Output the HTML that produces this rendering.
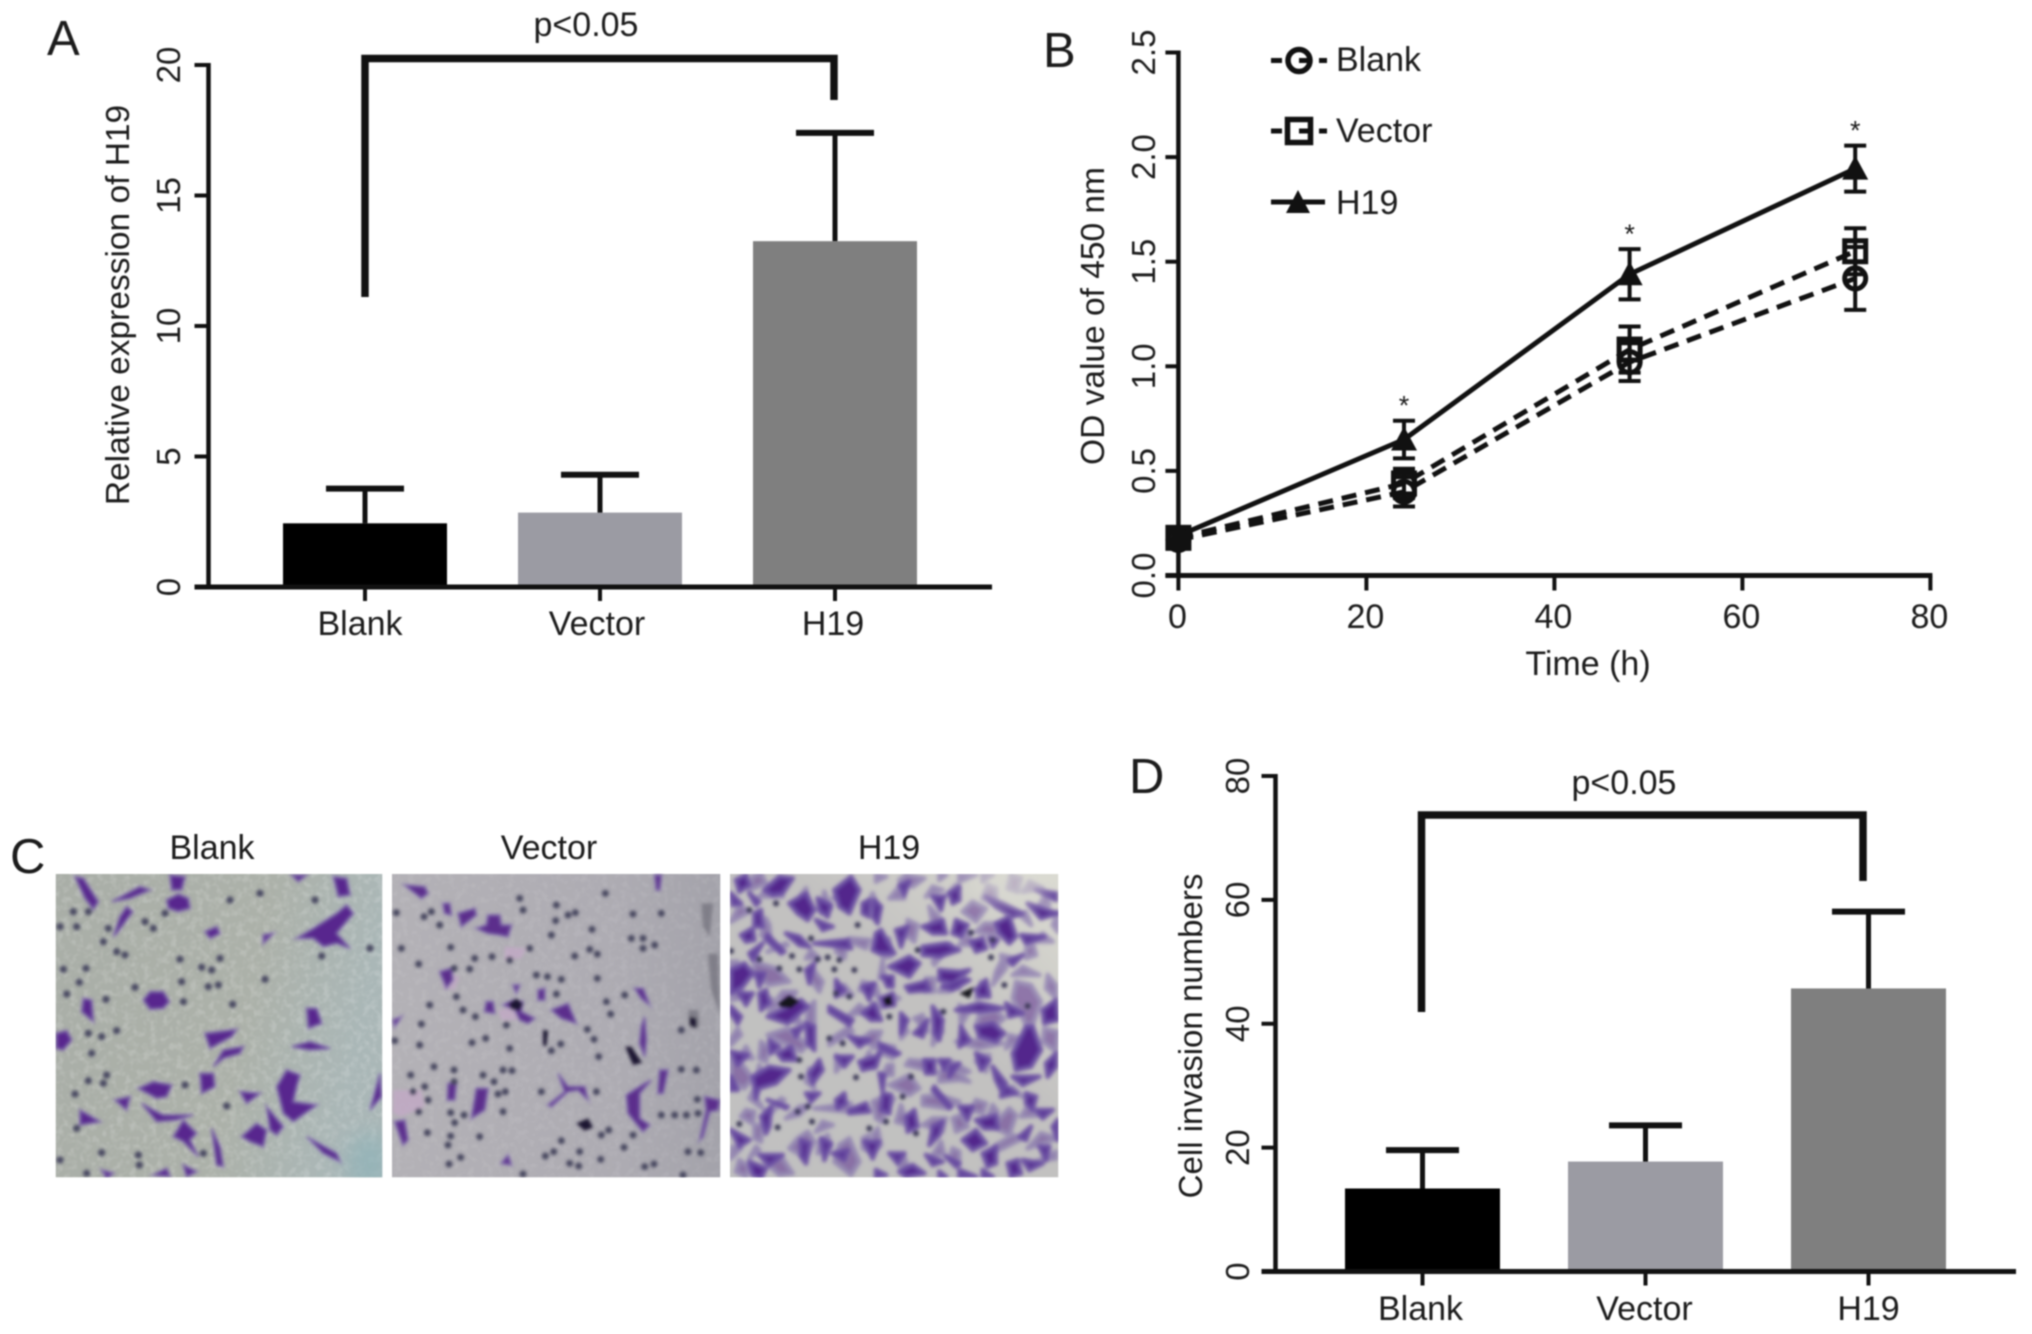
<!DOCTYPE html>
<html lang="en">
<head>
<meta charset="utf-8">
<title>H19 expression, proliferation and invasion panels</title>
<style>
html,body{margin:0;padding:0;background:#fff;width:2032px;height:1334px;overflow:hidden}
svg{display:block;filter:blur(.7px)}
text{font-family:"Liberation Sans",Arial,sans-serif;fill:#1c1c1c}
</style>
</head>
<body>
<svg id="figure" xmlns="http://www.w3.org/2000/svg" width="2032" height="1334" viewBox="0 0 2032 1334">
<defs>
<filter id="soft" x="-5%" y="-5%" width="110%" height="110%"><feGaussianBlur stdDeviation="5"/></filter>
<filter id="wide" x="-30%" y="-30%" width="160%" height="160%"><feGaussianBlur stdDeviation="30"/></filter>
<filter id="speck" x="0" y="0" width="100%" height="100%">
<feTurbulence type="fractalNoise" baseFrequency="0.05" numOctaves="2" seed="4"/>
<feColorMatrix type="matrix" values="0 0 0 0 1  0 0 0 0 1  0 0 0 0 1  3 0 0 0 -1.3"/>
</filter>
<linearGradient id="bg-blank" x1="0" y1="0" x2="1" y2="0.2"><stop offset="0" stop-color="#a9aea7"/><stop offset=".65" stop-color="#acb1a9"/><stop offset="1" stop-color="#aab7b7"/></linearGradient>
<linearGradient id="bg-vector" x1="0" y1="0" x2="1" y2="0"><stop offset="0" stop-color="#b3b1b6"/><stop offset=".7" stop-color="#adabb2"/><stop offset="1" stop-color="#a3a2aa"/></linearGradient>
<linearGradient id="bg-h19" x1="0" y1="1" x2="1" y2="0"><stop offset="0" stop-color="#c0c0c0"/><stop offset=".6" stop-color="#c2c1c0"/><stop offset="1" stop-color="#dbdbd2"/></linearGradient>
<clipPath id="clip-blank"><rect x="17" y="12" width="980" height="910"/></clipPath>
<clipPath id="clip-vector"><rect x="12" y="12" width="985" height="910"/></clipPath>
<clipPath id="clip-h19"><rect x="12" y="12" width="985" height="910"/></clipPath>
</defs>
<rect width="2032" height="1334" fill="#fff"/>

<g id="chart-a"></g>
<g id="chart-b"></g>
<g id="chart-d"></g>

<text x="47" y="55" font-size="49">A</text>
<text x="1043" y="67" font-size="49">B</text>
<text x="10" y="873" font-size="49">C</text>
<text x="1129" y="793" font-size="49">D</text>

<g fill="none" stroke="#111">
  <g>
    <path d="M1271 60.500H1282M1299 60.500H1309M1319 60.500H1327" stroke-width="5"/>
    <circle cx="1299" cy="60.500" r="11" stroke-width="5.500"/>
    <text x="1336" y="71" font-size="34" stroke="none">Blank</text>
  </g>
  <g>
    <path d="M1271 131H1282M1299 131H1309M1319 131H1327" stroke-width="5"/>
    <rect x="1287.500" y="119.500" width="23" height="23" stroke-width="5.500"/>
    <text x="1336" y="142" font-size="34" stroke="none">Vector</text>
  </g>
  <g>
    <path d="M1271 202H1325" stroke-width="5"/>
    <polygon points="1298,190 1310,213 1286,213" fill="#111" stroke="none"/>
    <text x="1336" y="214" font-size="34" stroke="none">H19</text>
  </g>
</g>

<text x="212" y="859" font-size="34" text-anchor="middle">Blank</text>
<text x="549" y="859" font-size="34" text-anchor="middle">Vector</text>
<text x="889" y="859" font-size="34" text-anchor="middle">H19</text>

<g transform="translate(50 870) scale(.33333)" clip-path="url(#clip-blank)">
  <rect x="17" y="12" width="980" height="910" fill="url(#bg-blank)"/>
  <rect x="17" y="12" width="980" height="910" filter="url(#speck)" opacity=".16"/>
  <ellipse cx="960" cy="880" rx="70" ry="90" fill="#8fb2b8" opacity=".7" filter="url(#wide)"/>
  <g filter="url(#soft)">
    <path fill="#58288e" stroke="#7d67ad" stroke-opacity=".55" stroke-width="9" d="M75 20L100 25 145 95 130 118 105 85ZM185 95L270 50 300 60 240 85ZM230 110L248 125 200 190 190 200 210 140ZM360 15L405 20 395 60 365 60ZM350 90L385 72 415 85 420 115 385 125 355 115ZM465 185L500 170 510 190 480 205ZM740 205L790 175 860 130 890 105 910 130 860 190 900 235 860 220 820 230 790 205ZM850 20L890 25 900 75 865 80ZM725 15L770 15 745 35ZM280 390L300 365 340 365 358 395 340 415 300 418ZM100 385L125 390 130 455 95 425ZM18 490L50 482 65 510 40 540 18 535ZM465 490L560 478 545 500 480 535ZM490 590L520 540 580 530 570 550 520 565ZM450 610L490 610 495 650 455 670ZM265 655L310 635 365 645 350 680 320 685ZM195 690L240 680 230 720ZM275 700L310 720 340 735 430 735 380 750 320 755ZM370 800L400 750 440 790 420 810 445 860 400 815ZM90 720L150 755 90 765ZM485 775L510 830 520 890 500 885ZM570 665L630 670 590 700ZM680 650L710 600 750 615 740 650 730 695 800 705 730 755 700 730ZM650 710L700 770 680 795 660 780ZM575 800L620 760 650 780 640 830 600 815ZM770 800L860 850 870 875 820 850ZM770 415L800 415 815 460 775 475ZM725 530L780 515 840 535 780 540ZM960 720L990 610 995 680ZM310 915L350 895 360 920ZM400 885L440 905 410 920ZM155 900L190 910 170 925ZM640 195L670 190 640 220Z"/>
    <path fill="none" stroke="#4a4a62" stroke-width="22" stroke-linecap="round" d="M30 170h0M80 170h0M115 125h0M70 125h0M175 175h0M160 215h0M200 245h0M225 255h0M310 175h0M285 155h0M345 130h0M40 298h0M108 295h0M88 337h0M50 372h0M168 388h0M255 352h0M390 268h0M455 292h0M485 300h0M510 265h0M395 335h0M475 350h0M505 345h0M400 395h0M548 403h0M645 328h0M540 90h0M630 70h0M115 490h0M155 500h0M200 482h0M125 550h0M170 615h0M115 632h0M75 672h0M160 640h0M405 645h0M530 708h0M80 775h0M265 855h0M155 848h0M30 870h0M110 910h0M268 885h0M460 850h0M960 235h0M815 258h0M795 90h0"/>
  </g>
</g>

<g transform="translate(388 870) scale(.33333)" clip-path="url(#clip-vector)">
  <rect x="12" y="12" width="985" height="910" fill="url(#bg-vector)"/>
  <rect x="12" y="12" width="985" height="910" filter="url(#speck)" opacity=".08"/>
  <g filter="url(#soft)">
    <path fill="#c2a9c6" opacity=".8" d="M15 660L100 660 110 710 40 740 15 730ZM160 300L215 320 200 360 165 355ZM350 230L415 235 400 265 350 270ZM330 420L380 410 390 450 340 450Z"/>
    <path fill="#73727c" d="M960 250L990 250 995 430 970 360ZM900 420L930 420 935 470 905 475ZM940 100L975 100 965 200 945 170Z" opacity=".75"/>
    <path fill="#5b2d8c" stroke="#7d67ad" stroke-opacity=".5" stroke-width="9" d="M50 45L110 50 120 70 100 85ZM165 100L185 100 190 135 170 130ZM210 130L260 115 265 135 220 170ZM265 175L295 165 300 135 335 135 340 165 370 165 360 200 335 195 300 190ZM155 305L190 295 195 330 175 355ZM375 345L395 345 385 370ZM295 395L315 395 320 430 290 425ZM345 405L375 390 405 395 400 425 440 445 420 460 395 450 380 420ZM450 360L470 355 470 390 450 390ZM490 420L540 400 565 460 520 445ZM740 355L765 355 785 405 760 385ZM770 440L775 510 770 560 755 520 760 470ZM510 610L540 650 590 650 600 690 570 660 540 665 490 710 480 705 530 665ZM815 600L840 600 825 670 810 670ZM715 675L770 640 790 630 755 670 755 745 785 765 765 785 720 730ZM950 680L995 690 990 720 965 725 945 800 935 810 955 720ZM265 655L300 655 290 720 250 745ZM20 755L50 750 60 810 45 825ZM340 880L360 855 370 885ZM180 640L205 640 200 690 178 690ZM800 15L820 15 815 60 805 60ZM15 450L40 440 20 470Z"/>
    <path fill="#1b1730" d="M362 400L385 385 405 400 395 422 370 418ZM712 530L730 530 762 578 735 585ZM565 760L600 745 615 772 590 782ZM905 440L925 445 925 475 905 465ZM465 480L480 482 475 530 465 525Z"/>
    <path fill="none" stroke="#47465e" stroke-width="21" stroke-linecap="round" d="M25 128h0M108 140h0M130 125h0M155 165h0M40 235h0M92 282h0M188 232h0M198 295h0M245 297h0M260 265h0M312 260h0M365 270h0M425 235h0M395 85h0M405 120h0M505 105h0M503 152h0M490 195h0M540 135h0M562 128h0M612 178h0M605 238h0M628 252h0M560 258h0M652 70h0M628 325h0M445 315h0M478 320h0M505 372h0M520 328h0M125 405h0M205 380h0M225 420h0M262 440h0M355 465h0M100 462h0M20 512h0M95 525h0M252 518h0M293 505h0M365 535h0M490 542h0M518 522h0M632 560h0M618 508h0M598 478h0M655 395h0M668 432h0M710 375h0M880 480h0M138 590h0M198 600h0M198 635h0M285 615h0M318 635h0M345 600h0M372 602h0M68 615h0M110 650h0M75 665h0M120 690h0M92 725h0M188 728h0M228 735h0M200 758h0M118 788h0M188 798h0M275 800h0M180 825h0M218 862h0M183 882h0M345 725h0M330 672h0M352 665h0M460 665h0M625 665h0M640 795h0M662 780h0M520 812h0M472 858h0M497 845h0M545 880h0M572 888h0M575 845h0M638 868h0M708 832h0M798 882h0M770 890h0M735 795h0M880 598h0M925 600h0M820 735h0M860 735h0M895 735h0M930 730h0M928 688h0M900 845h0M938 848h0M405 912h0M885 915h0M735 132h0M765 205h0M730 205h0M820 130h0M800 225h0M765 235h0"/>
  </g>
</g>

<g transform="translate(726 870) scale(.33333)" clip-path="url(#clip-h19)">
  <rect x="12" y="12" width="985" height="910" fill="url(#bg-h19)"/>
  <g filter="url(#soft)">
    <use href="#h19-cells" transform="translate(0 935) scale(1 -1)" opacity=".5"/>
    <path id="h19-cells" fill="#52268c" stroke="#6a4fa4" stroke-opacity=".8" stroke-width="15" stroke-linejoin="round" d="M30 30l30-15 10 30-30 20zM115 60l45-40 40 5-30 45-30 5zM15 70l30 30-25 5zM70 70l30 25-10 10zM85 130l20-10 5 50-25 0zM45 195l35-20 5 35-25 5zM190 100l50-30 25 50-20 30-30-20zM275 85l40 20-10 35-25-20zM325 60l50-40 25 40-30 70-30-20zM410 100l20-10 0 50-20-10zM445 90l20 20-10 50-15-20zM520 45l30-10-15 40zM620 80l35 0-10 40zM670 70l30-20 0 40-20 10zM590 170l60-20 10 40-40 0zM690 150l35 15-20 35-25-10zM780 80l50 20 60 30-30 10-50-30zM905 100l90 30-50 15zM930 60l60 10 0 20zM810 160l40-20 20 60-20 20-30-30zM885 195l70 5-55 20zM735 215l35-10 10 30-30 10zM790 205l25 5-15 20zM180 190l40 10 30 30-30-5zM265 220l100-10 10 25-70-10zM125 195l50 50-10 5-45-45zM70 250l40-30-30 50zM270 150l50 20-30 10zM450 190l15-10 40 70-45 0-20-10zM510 180l35-10-20 60zM590 230l70-10 40 20-60 20-50-5zM490 290l60-30 30 20-30 40zM640 300l60 5 30-5-50 40-40-10zM850 270l40-15-30 30zM15 300l40-20 25 30-30 40-35 20zM40 370l40 0-20 35zM100 370l20-10 10 40-25 20zM90 310l25 0-15 40zM15 410l30 30-10 20-20-30zM125 440l100-50 20 20-60 50zM240 300l25-20-15 60zM330 330l25 30-25 20zM410 350l35-10-15 50zM470 320l30 0 0 30-15 0zM465 385l35-15 5 35-30 5zM540 350l60-15 10 25-60 5zM650 350l60-25 20 5-50 30zM750 360l30-30 10 50-30 0zM310 410l70 40-10 15-60-40zM410 430l35-30 20 50-30 0zM525 430l20 20-20 40zM565 490l40-40-15 50zM240 460l25 10 0 70-20-20zM620 410l30 40-10 60-15-20zM690 420l70-20 70 15-70 10zM750 470l50-10 35 30-25 25-50-15zM840 400l50 30-40 10zM950 420l40-30 5 60-40 10zM900 470l20 0 25 70-30 50-45 10-10-50zM705 470l25 40-30 20zM130 510l30 20-25 20zM155 550l40-20 15 40-40 0zM15 545l50 10-30 30zM200 480l30-10-20 30zM370 500l60 10-30 20zM460 520l60 30-10 5-50-20zM330 560l50 0-25 30zM400 575l50-15 15-20-15 50-40 10zM595 570l30 0 0 40-25 0zM640 570l30 0-15 30zM670 590l30-10-30 40zM750 550l40 20-25 30zM800 590l40 50-10 30-20-40zM860 620l80 0-50 25zM960 580l30-30 0 40-25 30zM80 620l50-30 60 10-40 40-50 15-10 30zM250 610l30-40 10 30-30 40zM460 610l15 5-5 50zM15 620l20 40-20 0zM240 670l40 0-25 25zM330 690l25-20 5 30-25 15zM470 670l25 5-5 55-25-10zM370 720l50-20 10 25-60 5zM625 650l50 60-5 5-50-55zM700 710l40 0-15 40zM540 740l25-20 10 50-30 15zM750 750l60-15 5 40-40 0zM830 640l40 30-45 10zM900 670l30 10-10 40-20-20zM930 720l50 0-30 25zM620 770l30-15-10 40-30 30zM105 740l30-30-5 60-10 20zM125 690l60 20-5 5zM15 780l55 30-30 20zM100 855l70 0-40 30zM70 875l50 20-15 30-25-10zM225 810l25 10-10 60-15-20zM285 805l30 15-20 50zM320 850l45-10-10 30zM415 815l45 0-20 50zM490 850l45 0-20 30zM520 905l40-20 35 25-55 10zM450 900l30 15-30 5zM600 855l50 20-30 10zM710 810l40-30 30 40-40 20zM770 850l40-20 0 50-25 10zM660 860l40 20-10 10zM700 900l50 20-50 0zM845 880l30-10 10 40-30 10zM890 870l60 10-40 20zM940 830l30 0-10 40zM640 905l20 15-20 0zM770 900l30 20-30 0zM980 770l15-20 0 60zM880 800l35-30-15 40z"/>
    <path fill="#14121f" d="M155 400L190 375 222 395 195 415 165 412ZM470 385L495 375 500 405 478 408ZM700 370L745 350 730 385Z"/>
    <path fill="none" stroke="#3e3a58" stroke-width="18" stroke-linecap="round" d="M150 100h0M70 120h0M15 243h0M100 268h0M198 258h0M160 295h0M220 298h0M275 268h0M305 262h0M340 270h0M385 300h0M325 298h0M220 570h0M245 710h0M258 755h0M155 772h0M40 762h0M350 520h0M310 505h0M390 622h0M555 620h0M530 680h0M430 775h0M480 755h0M570 790h0M735 188h0M795 262h0M905 408h0M835 345h0M652 425h0M490 440h0M330 370h0M370 380h0M575 240h0M800 210h0M395 165h0M255 205h0M225 620h0M215 725h0"/>
  </g>
  <ellipse cx="850" cy="40" rx="120" ry="60" fill="#dcdcd4" opacity=".6" filter="url(#wide)"/>
</g>
</svg>

<script>
const barCategories = ["Blank", "Vector", "H19"];
const exprValues = [2.44, 2.85, 13.25];
const exprErrors = [1.33, 1.45, 4.15];
const exprTicks = [0, 5, 10, 15, 20];

const invasionValues = [13.4, 17.75, 45.7];
const invasionErrors = [6.2, 5.85, 12.4];
const invasionTicks = [0, 20, 40, 60, 80];

const timePoints = [0, 24, 48, 72];
const blankOD = [0.17, 0.40, 1.02, 1.42];
const blankErr = [0.04, 0.07, 0.09, 0.15];
const vectorOD = [0.18, 0.44, 1.08, 1.55];
const vectorErr = [0.04, 0.07, 0.11, 0.11];
const h19OD = [0.19, 0.65, 1.44, 1.945];
const h19Err = [0.04, 0.09, 0.12, 0.11];
const starTimes = [24, 48, 72];
const timeTicks = [0, 20, 40, 60, 80];
const odTicks = [0, 0.5, 1, 1.5, 2, 2.5];

const NS = "http://www.w3.org/2000/svg";
const INK = "#111";

function add(parent, tag, attrs, name) {
  const n = document.createElementNS(NS, tag);
  for (const k in attrs) n.setAttribute(k, attrs[k]);
  
  
  parent.appendChild(n);
  return n;
}
function line(parent, x1, y1, x2, y2, w, name, dash) {
  const a = { x1: x1, y1: y1, x2: x2, y2: y2, stroke: INK, "stroke-width": w };
  if (dash) a["stroke-dasharray"] = dash;
  return add(parent, "line", a, name);
}
function label(parent, str, x, y, size, anchor, rot, name) {
  const a = { x: x, y: y, "font-size": size, "text-anchor": anchor };
  if (rot) a.transform = "rotate(-90 " + x + " " + y + ")";
  const t = add(parent, "text", a, name);
  t.textContent = str;
  return t;
}

function barChart(root, g, values, errors, ticks, cats, title) {
  const y = v => g.y0 - (v / g.vMax) * (g.y0 - g.yTop);
  const x = i => g.x0 + g.step * i;
  cats.forEach((c, i) => {
    const key = c.toLowerCase();
    add(root, "rect", {
      x: x(i) - g.barW / 2, y: y(values[i]), width: g.barW,
      height: g.y0 - y(values[i]), fill: g.colors[i]
    }, "bar-" + key);
    line(root, x(i), y(values[i]), x(i), y(values[i] + errors[i]), 5, "error-stem-" + key);
    line(root, x(i) - g.cap / 2, y(values[i] + errors[i]), x(i) + g.cap / 2, y(values[i] + errors[i]), 6, "error-cap-" + key);
    line(root, x(i), g.y0, x(i), g.y0 + 14, 4, "x-tick-" + key);
    label(root, c, x(i) + g.labelDx[i], g.labelY, 34, "middle", false, "x-label-" + key);
  });
  line(root, g.axisX, g.yTop - 2, g.axisX, g.y0 + 2, 4.5, "y-axis");
  line(root, g.axisX - 14, g.y0, g.xEnd, g.y0, 5, "x-axis");
  ticks.forEach(t => {
    line(root, g.axisX - 14, y(t), g.axisX, y(t), 4, "y-tick-" + t);
    label(root, String(t), g.tickLabelX, y(t), 33, "middle", true, "y-tick-label-" + t);
  });
  label(root, title, g.titleX, g.titleY, g.titleSize, "middle", true, "y-axis-title");
  add(root, "path", {
    d: "M" + g.brL + " " + g.brLB + "V" + g.brT + "H" + g.brR + "V" + g.brRB,
    fill: "none", stroke: INK, "stroke-width": 7.5
  }, "significance-bracket");
  label(root, "p<0.05", g.pX, g.pY, 34, "middle", false, "p-value-label");
}

barChart(document.getElementById("chart-a"), {
  x0: 365, step: 235, barW: 164, cap: 78, y0: 587, yTop: 65, vMax: 20,
  axisX: 208.5, xEnd: 992, labelY: 635, labelDx: [-5, -3, -2],
  colors: ["#000000", "#9b9ba3", "#7f7f7f"], tickLabelX: 180, titleX: 129, titleY: 305, titleSize: 33.5,
  brL: 365, brT: 58.5, brR: 834, brLB: 297, brRB: 100, pX: 586, pY: 36
}, exprValues, exprErrors, exprTicks, barCategories, "Relative expression of H19");

barChart(document.getElementById("chart-d"), {
  x0: 1422.5, step: 223, barW: 155, cap: 73, y0: 1271.5, yTop: 776, vMax: 80,
  axisX: 1275.5, xEnd: 2016, labelY: 1320, labelDx: [-2, -1, 0],
  colors: ["#000000", "#9b9ba3", "#7f7f7f"], tickLabelX: 1249, titleX: 1202, titleY: 1036, titleSize: 33,
  brL: 1421.5, brT: 815, brR: 1863, brLB: 1012, brRB: 881, pX: 1624, pY: 794
}, invasionValues, invasionErrors, invasionTicks, barCategories, "Cell invasion numbers");

(function lineChart() {
  const root = document.getElementById("chart-b");
  const X0 = 1178.4, XPER = 9.4, Y0 = 575.5, YPER = 209.2;
  const xS = t => X0 + t * XPER;
  const yS = v => Y0 - v * YPER;

  line(root, X0, yS(2.5) - 2, X0, Y0 + 2, 4.5, "y-axis");
  line(root, X0 - 13, Y0, xS(80) + 2, Y0, 5, "x-axis");
  odTicks.forEach(t => {
    line(root, X0 - 13, yS(t), X0, yS(t), 4, "y-tick-" + t);
    label(root, t.toFixed(1), 1155, yS(t), 33, "middle", true, "y-tick-label-" + t);
  });
  timeTicks.forEach(t => {
    line(root, xS(t), Y0, xS(t), Y0 + 15, 4, "x-tick-" + t);
    label(root, String(t), xS(t) - 1, 628, 34, "middle", false, "x-tick-label-" + t);
  });
  label(root, "Time (h)", 1588, 675, 34, "middle", false, "x-axis-title");
  label(root, "OD value of 450 nm", 1104, 316, 33.5, "middle", true, "y-axis-title");

  function series(name, vals, errs, dash, marker) {
    const g = add(root, "g", {}, "series-" + name);
    add(g, "polyline", {
      points: timePoints.map((t, i) => xS(t) + "," + yS(vals[i])).join(" "),
      fill: "none", stroke: INK, "stroke-width": 5,
      "stroke-dasharray": dash || "none"
    }, "line-" + name);
    timePoints.forEach((t, i) => {
      const px = xS(t), top = yS(vals[i] + errs[i]), bot = yS(vals[i] - errs[i]);
      line(g, px, top, px, bot, 4, "error-bar-" + name + "-" + t);
      line(g, px - 11, top, px + 11, top, 4, "error-cap-top-" + name + "-" + t);
      line(g, px - 11, bot, px + 11, bot, 4, "error-cap-bottom-" + name + "-" + t);
      marker(g, px, yS(vals[i]), "point-" + name + "-" + t);
    });
  }
  series("blank", blankOD, blankErr, "15 9", (g, x, y, n) => {
    add(g, "circle", { cx: x, cy: y, r: 10.5, fill: "none", stroke: INK, "stroke-width": 5 }, n);
  });
  series("vector", vectorOD, vectorErr, "15 9", (g, x, y, n) => {
    add(g, "rect", { x: x - 10.5, y: y - 10.500, width: 21, height: 21, fill: "none", stroke: INK, "stroke-width": 5 }, n);
  });
  series("h19", h19OD, h19Err, null, (g, x, y, n) => {
    add(g, "polygon", { points: x + "," + (y - 13) + " " + (x + 13) + "," + (y + 11) + " " + (x - 13) + "," + (y + 11), fill: INK }, n);
  });

  starTimes.forEach(t => {
    const i = timePoints.indexOf(t);
    label(root, "*", xS(t), yS(h19OD[i] + h19Err[i]) - 6, 27, "middle", false, "significance-star-" + t);
  });
})();
</script>
</body>
</html>
